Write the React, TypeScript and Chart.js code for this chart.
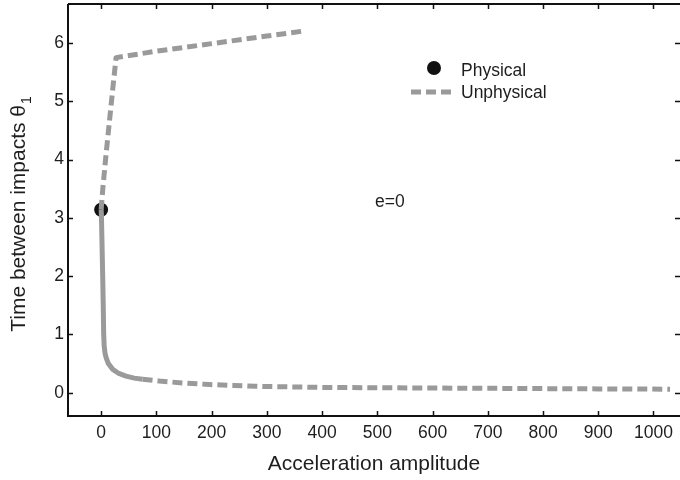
import React, { useEffect, useRef } from "react";
import { Chart, registerables } from "chart.js";

Chart.register(...registerables);

// Axis ticks
const xTicks = [0, 100, 200, 300, 400, 500, 600, 700, 800, 900, 1000];
const yTicks = [0, 1, 2, 3, 4, 5, 6];

// Physical solution: a single point
const physX = [0];
const physY = [3.14];

// Unphysical branch: upper arm, then the long lower tail
const unphysX = [362, 300, 200, 100, 27, 22, 16, 9, 3, 0, 0.5, 1.5, 2.8, 3.8, 4.6, 5.5, 7, 9, 13, 21, 32, 45, 60, 75, 105, 150, 196, 240, 280, 340, 400, 500, 600, 700, 800, 900, 1030];
const unphysY = [6.2, 6.12, 5.99, 5.86, 5.75, 5.3, 4.75, 4.1, 3.5, 3.14, 3.05, 2.6, 2.0, 1.5, 1.0, 0.8, 0.68, 0.6, 0.5, 0.4, 0.33, 0.285, 0.25, 0.23, 0.2, 0.165, 0.14, 0.125, 0.11, 0.1, 0.09, 0.085, 0.08, 0.075, 0.07, 0.065, 0.06];

const FONT = "'Liberation Sans', Arial, Helvetica, sans-serif";
const TEXT = "#1e1e1e";
const GRAY = "rgb(154,154,154)";

const framePlugin = {
  id: "frameAndLabels",
  afterDraw(chart: any) {
    const { ctx, chartArea: a, scales } = chart;
    const xs = scales.x;
    const ys = scales.y;
    ctx.save();
    // box lines
    ctx.strokeStyle = "#111";
    ctx.lineWidth = 2;
    ctx.beginPath();
    ctx.moveTo(a.left, a.top);
    ctx.lineTo(a.left, a.bottom);
    ctx.lineTo(a.right, a.bottom);
    ctx.moveTo(a.left, a.top);
    ctx.lineTo(a.right, a.top);
    ctx.stroke();
    // inward tick marks on all four sides
    ctx.lineWidth = 1.5;
    ctx.beginPath();
    const tl = 5;
    for (const v of xTicks) {
      const px = Math.round(xs.getPixelForValue(v)) + 0.5;
      ctx.moveTo(px, a.bottom);
      ctx.lineTo(px, a.bottom - tl);
      ctx.moveTo(px, a.top);
      ctx.lineTo(px, a.top + tl);
    }
    for (const v of yTicks) {
      const py = Math.round(ys.getPixelForValue(v)) + 0.5;
      ctx.moveTo(a.left, py);
      ctx.lineTo(a.left + tl, py);
      ctx.moveTo(a.right, py);
      ctx.lineTo(a.right - tl, py);
    }
    ctx.stroke();

    ctx.fillStyle = TEXT;
    // x axis title
    ctx.font = `21px ${FONT}`;
    ctx.textAlign = "center";
    ctx.textBaseline = "alphabetic";
    ctx.fillText("Acceleration amplitude", 374, 470);

    // y axis title with subscript
    const main = "Time between impacts \u03b8";
    ctx.font = `21px ${FONT}`;
    const w1 = ctx.measureText(main).width;
    ctx.font = `14px ${FONT}`;
    const w2 = ctx.measureText("1").width;
    ctx.save();
    ctx.translate(25, 214);
    ctx.rotate(-Math.PI / 2);
    ctx.textAlign = "left";
    const start = -(w1 + w2 + 1) / 2;
    ctx.font = `21px ${FONT}`;
    ctx.fillText(main, start, 0);
    ctx.font = `14px ${FONT}`;
    ctx.fillText("1", start + w1 + 1, 6);
    ctx.restore();

    // legend
    ctx.font = `17.5px ${FONT}`;
    ctx.textAlign = "left";
    ctx.fillStyle = "#111";
    ctx.beginPath();
    ctx.arc(434, 68, 7, 0, Math.PI * 2);
    ctx.fill();
    ctx.fillStyle = TEXT;
    ctx.fillText("Physical", 461, 76);
    ctx.strokeStyle = GRAY;
    ctx.lineWidth = 5;
    ctx.setLineDash([10, 5]);
    ctx.beginPath();
    ctx.moveTo(411, 92);
    ctx.lineTo(451, 92);
    ctx.stroke();
    ctx.setLineDash([]);
    ctx.fillText("Unphysical", 461, 98);

    // annotation
    ctx.fillText("e=0", 375, 207);
    ctx.restore();
  },
};

export default function App() {
  const ref = useRef<HTMLCanvasElement | null>(null);

  useEffect(() => {
    if (!ref.current) return;
    const unphys = unphysX.map((x, i) => ({ x, y: unphysY[i] }));
    const phys = physX.map((x, i) => ({ x, y: physY[i] }));

    const chart = new Chart(ref.current, {
      type: "line",
      data: {
        datasets: [
          {
            label: "Unphysical",
            data: unphys,
            borderColor: GRAY,
            borderWidth: 5,
            borderDash: [10, 5],
            borderCapStyle: "butt",
            borderJoinStyle: "round",
            pointRadius: 0,
            tension: 0,
            fill: false,
            order: 0,
            segment: {
              // dense part of the lower branch reads as a solid stroke
              borderDash: (ctx: any) =>
                ctx.p0.parsed.y <= 3.14 && ctx.p1.parsed.x <= 90 ? [] : undefined,
            },
          },
          {
            label: "Physical",
            data: phys,
            showLine: false,
            pointRadius: 7,
            pointBackgroundColor: "#111",
            pointBorderColor: "#111",
            pointBorderWidth: 0,
            order: 1,
          },
        ],
      },
      options: {
        responsive: false,
        animation: false,
        events: [],
        layout: { autoPadding: false, padding: { top: 4, right: 0, left: 0, bottom: 0 } },
        plugins: {
          legend: { display: false },
          tooltip: { enabled: false },
        },
        scales: {
          x: {
            type: "linear",
            min: -60,
            max: 1048,
            afterBuildTicks: (s: any) => {
              s.ticks = xTicks.map((v) => ({ value: v }));
            },
            afterFit: (s: any) => {
              s.height = 64;
              s.paddingLeft = 0;
              s.paddingRight = 0;
              s.paddingTop = 0;
              s.paddingBottom = 0;
            },
            grid: { display: false, drawTicks: false },
            border: { display: false },
            ticks: {
              padding: 7,
              maxRotation: 0,
              autoSkip: false,
              color: TEXT,
              font: { family: FONT, size: 17.5 },
              callback: (v: any) => String(v),
            },
          },
          y: {
            type: "linear",
            min: -0.4,
            max: 6.67,
            afterBuildTicks: (s: any) => {
              s.ticks = yTicks.map((v) => ({ value: v }));
            },
            afterFit: (s: any) => {
              s.width = 68;
              s.paddingLeft = 0;
              s.paddingRight = 0;
              s.paddingTop = 0;
              s.paddingBottom = 0;
            },
            grid: { display: false, drawTicks: false },
            border: { display: false },
            ticks: {
              padding: 4,
              autoSkip: false,
              color: TEXT,
              font: { family: FONT, size: 17.5 },
              callback: (v: any) => String(v),
            },
          },
        },
      },
      plugins: [framePlugin],
    });
    return () => chart.destroy();
  }, []);

  return (
    <div style={{ position: "fixed", left: 0, top: 0, width: 680, height: 480, background: "#fff" }}>
      <canvas ref={ref} width={680} height={480} style={{ display: "block" }} />
    </div>
  );
}
